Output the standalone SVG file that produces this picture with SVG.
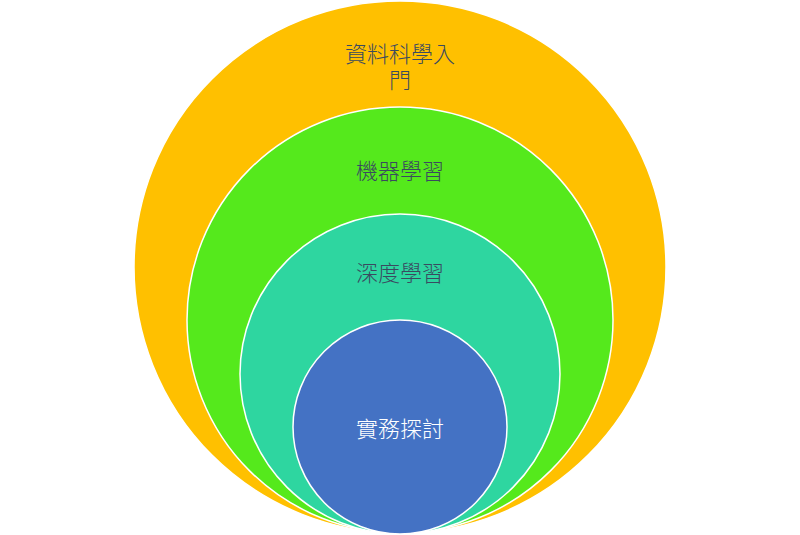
<svg xmlns="http://www.w3.org/2000/svg" width="800" height="535" viewBox="0 0 800 535">
<style>
.c{stroke:#FFFFFF;stroke-width:1.5}
.t{font-family:"Noto Sans CJK TC","Noto Sans CJK SC",sans-serif;font-size:22px;font-weight:300;text-anchor:middle;fill:#3A4A60}
</style>
<rect width="800" height="535" fill="#FFFFFF"/>
<g id="n1"><circle class="c" cx="400" cy="267" r="266" fill="#FFC000"/><text class="t" x="400" y="62"><tspan x="400">資料科學入</tspan><tspan x="400" dy="26">門</tspan></text></g>
<g id="n2"><circle class="c" cx="400" cy="320" r="213" fill="#55E91C"/><text class="t" x="400" y="179">機器學習</text></g>
<g id="n3"><circle class="c" cx="400" cy="374" r="160" fill="#2ED6A0"/><text class="t" x="400" y="281">深度學習</text></g>
<g id="n4"><circle class="c" cx="400" cy="427" r="107" fill="#4472C4"/><text class="t" x="400" y="437" style="fill:#FFFFFF">實務探討</text></g>
<g id="connectors"></g>
</svg>
